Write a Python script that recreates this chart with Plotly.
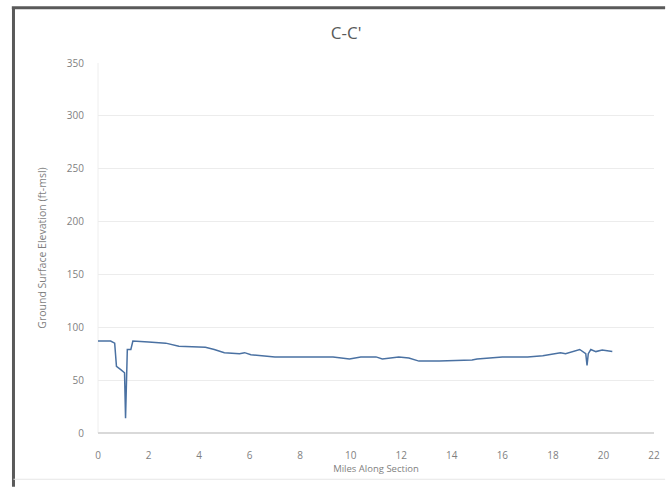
import plotly.graph_objects as go

miles = [0.0, 0.5, 0.66, 0.73, 0.9, 1.05, 1.09, 1.16, 1.3, 1.38, 2.0, 2.68, 3.2, 4.25, 4.6, 5.0, 5.6, 5.8, 6.05, 7.0, 8.0, 9.3, 9.95, 10.4, 11.0, 11.25, 11.9, 12.3, 12.7, 13.5, 14.8, 15.0, 16.0, 17.0, 17.6, 18.3, 18.5, 18.8, 19.06, 19.3, 19.35, 19.4, 19.5, 19.7, 19.95, 20.35]
elev = [87, 87, 85, 63, 60, 57, 14, 79, 79, 87, 86, 85, 82, 81, 79, 76, 75, 76, 74, 72, 72, 72, 70, 72, 72, 70, 72, 71, 68, 68, 69, 70, 72, 72, 73, 76, 75, 77, 79, 75, 64, 75, 79, 77, 78.5, 77]

title = "C-C'"
x_title = "Miles Along Section"
y_title = "Ground Surface Elevation (ft-msl)"
x_ticks = list(range(0, 23, 2))
y_ticks = list(range(0, 351, 50))

font_family = "Open Sans, Liberation Sans, sans-serif"

fig = go.Figure()
fig.add_trace(go.Scatter(x=miles, y=elev, mode="lines",
                         line=dict(color="#4a71a2", width=1.5),
                         showlegend=False))

fig.update_layout(
    width=672, height=488,
    margin=dict(l=98, r=12, t=63, b=55),
    paper_bgcolor="white", plot_bgcolor="white",
    title=dict(text=title, x=0.515, xref="container", xanchor="center",
               y=1 - 33 / 488, yref="container", yanchor="middle",
               font=dict(family=font_family, size=17, color="#595959")),
    font=dict(family=font_family, color="#7f7f7f"),
    xaxis=dict(range=[0, 22], tickvals=x_ticks, showgrid=False, zeroline=False,
               showline=False, ticks="", ticklabelstandoff=15,
               tickfont=dict(size=10, color="#7f7f7f"),
               title=dict(text=x_title, font=dict(size=9.5, color="#7f7f7f"), standoff=2)),
    yaxis=dict(range=[0, 350], tickvals=y_ticks, showgrid=True, gridcolor="#ececec",
               gridwidth=1, zeroline=True, zerolinecolor="#d9d9d9", showline=False,
               ticks="", ticklabelstandoff=13, tickfont=dict(size=10, color="#7f7f7f"),
               title=dict(text=y_title, font=dict(size=10.5, color="#7f7f7f"), standoff=18)),
)

# chart frame (left and top edges, faint bottom edge), kept inside the page
fig.add_shape(type="line", xref="paper", yref="paper",
              x0=-0.152, x1=-0.152, y0=-0.145, y1=1.149,
              line=dict(color="#5a5a5a", width=3), layer="below")
fig.add_shape(type="line", xref="paper", yref="paper",
              x0=-0.155, x1=1.02, y0=1.149, y1=1.149,
              line=dict(color="#5a5a5a", width=3), layer="below")
fig.add_shape(type="line", xref="paper", yref="paper",
              x0=-0.152, x1=1.02, y0=-0.125, y1=-0.125,
              line=dict(color="#e6e6e6", width=1), layer="below")
# faint plot-area left edge
fig.add_shape(type="line", xref="paper", yref="paper", x0=0, x1=0, y0=0, y1=1,
              line=dict(color="#eeeeee", width=1), layer="below")

fig.write_html("out.html")
